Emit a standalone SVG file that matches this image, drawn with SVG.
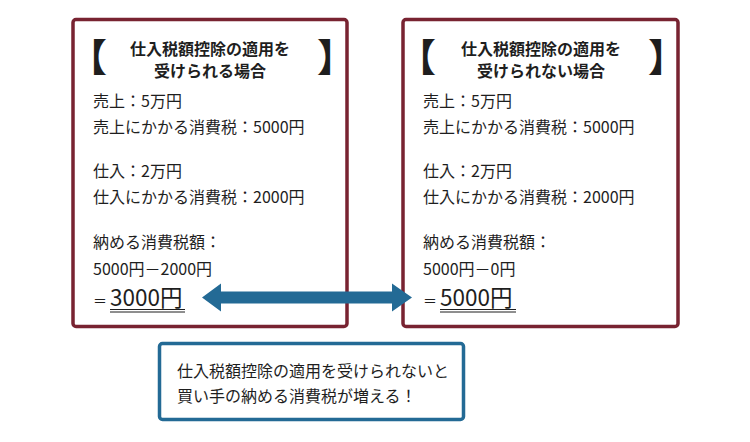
<svg xmlns="http://www.w3.org/2000/svg" width="750" height="442" viewBox="0 0 750 442">
<style>
.box{fill:#fff;stroke:#782331;stroke-width:3.5}
.note{fill:#fff;stroke:#236a95;stroke-width:3.5}
text{font-family:"Noto Sans CJK JP","Noto Sans",sans-serif;fill:#1e1e1e}
.t{font-size:16px}
.h{font-size:16px;font-weight:bold;text-anchor:middle}
.br{font-size:38px;font-weight:900}
.big{font-size:22.5px}
.eq{font-size:14px}
.ul{stroke:#1e1e1e;stroke-width:1}
.arrow{fill:#236a95}
</style>
<rect width="750" height="442" fill="#fff"/>
<g id="left-box">
<rect class="box" x="73" y="19.5" width="274" height="307" rx="3"/>
<text class="br" x="69" y="71">【</text>
<text class="br" x="317" y="71">】</text>
<text class="h" x="210" y="55">仕入税額控除の適用を</text>
<text class="h" x="210" y="77">受けられる場合</text>
<text class="t" x="93" y="107">売上：5万円</text>
<text class="t" x="93" y="133">売上にかかる消費税：5000円</text>
<text class="t" x="93" y="177">仕入：2万円</text>
<text class="t" x="93" y="203">仕入にかかる消費税：2000円</text>
<text class="t" x="93" y="248">納める消費税額：</text>
<text class="t" x="93" y="275">5000円－2000円</text>
<text class="eq" x="93" y="306">＝</text>
<text class="big" x="110" y="306">3000円</text>
<line class="ul" x1="110" y1="309.5" x2="185" y2="309.5"/>
<line class="ul" x1="110" y1="312" x2="185" y2="312"/>
</g>
<g id="right-box">
<rect class="box" x="403" y="19.5" width="275" height="307" rx="3"/>
<text class="br" x="398" y="71">【</text>
<text class="br" x="648" y="71">】</text>
<text class="h" x="541" y="55">仕入税額控除の適用を</text>
<text class="h" x="541" y="77">受けられない場合</text>
<text class="t" x="423" y="107">売上：5万円</text>
<text class="t" x="423" y="133">売上にかかる消費税：5000円</text>
<text class="t" x="423" y="177">仕入：2万円</text>
<text class="t" x="423" y="203">仕入にかかる消費税：2000円</text>
<text class="t" x="423" y="248">納める消費税額：</text>
<text class="t" x="423" y="275">5000円－0円</text>
<text class="eq" x="423" y="306">＝</text>
<text class="big" x="440" y="306">5000円</text>
<line class="ul" x1="440" y1="309.5" x2="516" y2="309.5"/>
<line class="ul" x1="440" y1="312" x2="516" y2="312"/>
</g>
<g id="note-box">
<rect class="note" x="159.5" y="343.5" width="304" height="76" rx="3"/>
<text class="t" x="177" y="377">仕入税額控除の適用を受けられないと</text>
<text class="t" x="177" y="402">買い手の納める消費税が増える！</text>
</g>
<g id="connectors">
<polygon class="arrow" points="202,297.5 221,283.5 221,291.5 392,291.5 392,283.5 412,297.5 392,311.5 392,303.5 221,303.5 221,311.5"/>
</g>
</svg>
